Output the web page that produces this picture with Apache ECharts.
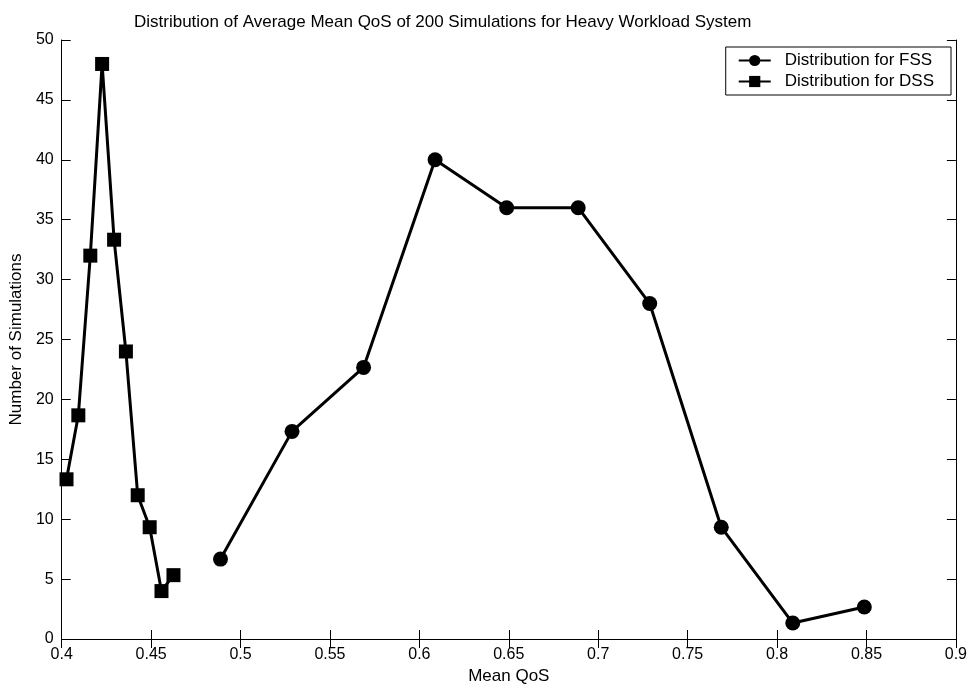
<!DOCTYPE html>
<html>
<head>
<meta charset="utf-8">
<script src="https://cdn.jsdelivr.net/npm/echarts@6/dist/echarts.min.js"></script>
<style>
  html, body { margin: 0; padding: 0; background: #fff; }
  #chart { width: 970px; height: 690px; }
</style>
</head>
<body>
<div id="chart"></div>
<script>
// bin centres (Mean QoS) and counts
var fssX = [0.4888, 0.5288, 0.5688, 0.6088, 0.6488, 0.6888, 0.7288, 0.7688, 0.8088, 0.8488];
var fssY = [6.67, 17.33, 22.67, 40, 36, 36, 28, 9.33, 1.33, 2.67];
var dssX = [0.4027, 0.4093, 0.4160, 0.4226, 0.4293, 0.4359, 0.4425, 0.4492, 0.4558, 0.4625];
var dssY = [13.33, 18.67, 32, 48, 33.33, 24, 12, 9.33, 4, 5.33];

function pairs(xs, ys) {
  var out = [];
  for (var i = 0; i < xs.length; i++) out.push([xs[i], ys[i]]);
  return out;
}

var font = 'Liberation Sans, Arial, sans-serif';
var chart = echarts.init(document.getElementById('chart'));

var axisBase = {
  axisLine: { show: true, lineStyle: { color: '#000', width: 1 } },
  axisTick: { show: true, inside: true, length: 9, lineStyle: { color: '#000' } },
  splitLine: { show: false }
};

var option = {
  backgroundColor: '#fff',
  animation: false,
  title: {
    text: 'Distribution of Average Mean QoS of 200 Simulations for Heavy Workload System',
    left: 129,
    top: 9,
    textStyle: { fontFamily: font, fontSize: 17, fontWeight: 'normal', color: '#000' }
  },
  legend: {
    right: 19,
    top: 47,
    orient: 'vertical',
    backgroundColor: '#fff',
    borderColor: '#000',
    borderWidth: 1,
    borderRadius: 0,
    padding: [5, 17, 5, 12],
    itemGap: 4,
    itemWidth: 32,
    itemHeight: 14,
    textStyle: { fontFamily: font, fontSize: 17, color: '#000', padding: [0, 0, 0, 9] },
    data: ['Distribution for FSS', 'Distribution for DSS']
  },
  grid: { left: 61, right: 14, top: 40, bottom: 48 },
  xAxis: [
    Object.assign({}, axisBase, {
      type: 'value', min: 0.4, max: 0.9, interval: 0.05,
      name: 'Mean QoS', nameLocation: 'middle', nameGap: 29,
      nameTextStyle: { fontFamily: font, fontSize: 17, color: '#000' },
      axisLabel: {
        fontFamily: font, fontSize: 16, color: '#000', margin: 8,
        formatter: function (v) { return String(+v.toFixed(2)); }
      }
    }),
    Object.assign({}, axisBase, {
      type: 'value', min: 0.4, max: 0.9, interval: 0.05, position: 'top',
      axisLabel: { show: false }
    })
  ],
  yAxis: [
    Object.assign({}, axisBase, {
      type: 'value', min: 0, max: 50, interval: 5,
      name: 'Number of Simulations', nameLocation: 'middle', nameGap: 33,
      nameTextStyle: { fontFamily: font, fontSize: 17, color: '#000' },
      axisLabel: { fontFamily: font, fontSize: 16, color: '#000', margin: 8 }
    }),
    Object.assign({}, axisBase, {
      type: 'value', min: 0, max: 50, interval: 5, position: 'right',
      axisLabel: { show: false }
    })
  ],
  series: [
    {
      name: 'Distribution for FSS',
      type: 'line',
      data: pairs(fssX, fssY),
      symbol: 'circle',
      symbolSize: 15,
      lineStyle: { color: '#000', width: 3 },
      itemStyle: { color: '#000' }
    },
    {
      name: 'Distribution for DSS',
      type: 'line',
      data: pairs(dssX, dssY),
      symbol: 'rect',
      symbolSize: 14,
      lineStyle: { color: '#000', width: 3 },
      itemStyle: { color: '#000' }
    }
  ]
};

chart.setOption(option);
</script>
</body>
</html>
